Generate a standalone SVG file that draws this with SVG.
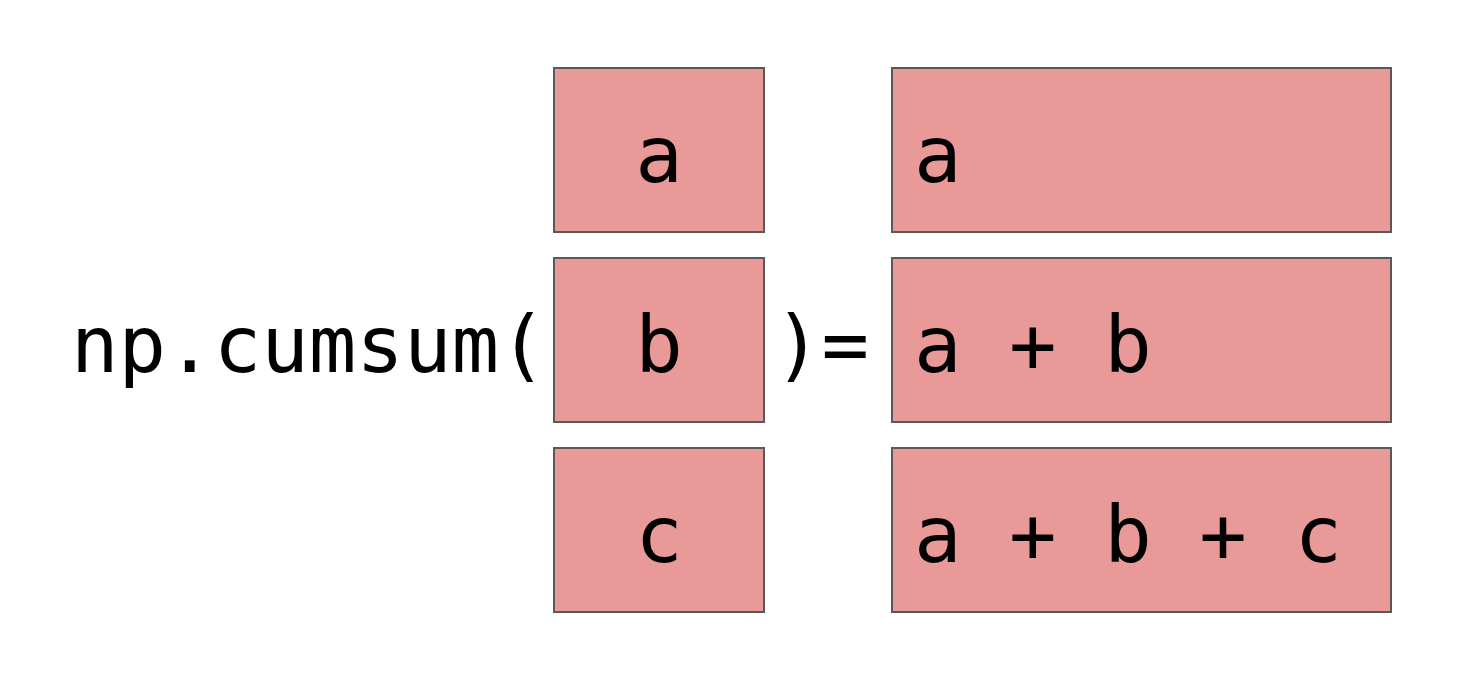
<svg xmlns="http://www.w3.org/2000/svg" width="1460" height="678" viewBox="0 0 1460 678">
<style>
.box{fill:#ea9999;stroke:#595959;stroke-width:2}
.t{font-family:"DejaVu Sans Mono","Liberation Mono",monospace;font-size:79px;fill:#000}
.c{text-anchor:middle}
</style>
<rect width="1460" height="678" fill="#ffffff"/>
<g id="label-fn"><text class="t" x="71" y="372">np.cumsum(</text></g>
<g id="label-eq"><text class="t" x="774" y="372">)=</text></g>
<g id="in-a"><rect class="box" x="554" y="68" width="210" height="164"/><text class="t c" x="659" y="182">a</text></g>
<g id="in-b"><rect class="box" x="554" y="258" width="210" height="164"/><text class="t c" x="659" y="372">b</text></g>
<g id="in-c"><rect class="box" x="554" y="448" width="210" height="164"/><text class="t c" x="659" y="562">c</text></g>
<g id="out-1"><rect class="box" x="892" y="68" width="499" height="164"/><text class="t" x="914" y="182">a</text></g>
<g id="out-2"><rect class="box" x="892" y="258" width="499" height="164"/><text class="t" x="914" y="372">a + b</text></g>
<g id="out-3"><rect class="box" x="892" y="448" width="499" height="164"/><text class="t" x="914" y="562">a + b + c</text></g>
<g id="connectors"></g>
</svg>
